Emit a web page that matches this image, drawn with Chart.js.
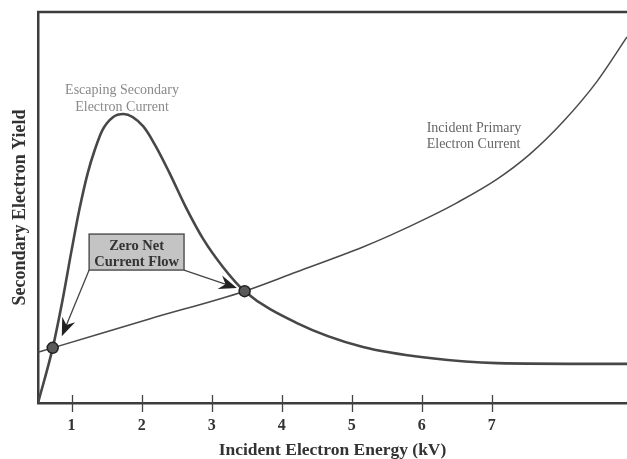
<!DOCTYPE html>
<html>
<head>
<meta charset="utf-8">
<script src="https://cdn.jsdelivr.net/npm/chart.js@4/dist/chart.umd.min.js"></script>
<style>
  html, body { margin: 0; padding: 0; background: #fff; }
  #wrap { width: 627px; height: 459px; }
</style>
</head>
<body>
<div id="wrap"><canvas id="chart"></canvas></div>
<script>
// incident energy (kV) and yield (arbitrary units)
const secondaryKv = [0.52, 0.73, 0.87, 1.0, 1.11, 1.23, 1.33, 1.44, 1.59, 1.74, 2.02, 2.2, 2.39, 2.63, 2.88, 3.16, 3.47, 4.21, 5.16, 6.11, 7.07, 8.93];
const secondaryYield = [0, 1.41, 2.63, 3.91, 4.94, 5.88, 6.47, 6.98, 7.31, 7.39, 7.08, 6.57, 5.91, 5.01, 4.19, 3.48, 2.86, 2.05, 1.43, 1.15, 1.02, 1.0];

const primaryKv = [0.52, 0.73, 2.11, 3.47, 4.21, 5.16, 5.54, 6.11, 6.5, 7.07, 7.54, 8.01, 8.5, 8.93];
const primaryYield = [1.3, 1.41, 2.15, 2.86, 3.35, 3.99, 4.28, 4.76, 5.12, 5.72, 6.36, 7.18, 8.22, 9.36];

const crossingKv = [0.73, 3.47];
const crossingYield = [1.41, 2.86];

const tickKv = [1, 2, 3, 4, 5, 6, 7];

const serif = "'Liberation Serif', 'Times New Roman', serif";
const ink = "#3c3c3c";

const toPoints = (xs, ys) => xs.map((x, i) => ({ x: x, y: ys[i] }));

function drawArrow(ctx, x1, y1, x2, y2) {
  const a = Math.atan2(y2 - y1, x2 - x1);
  ctx.beginPath();
  ctx.moveTo(x1, y1);
  ctx.lineTo(x2 - 10 * Math.cos(a), y2 - 10 * Math.sin(a));
  ctx.stroke();
  ctx.save();
  ctx.translate(x2, y2);
  ctx.rotate(a);
  ctx.beginPath();
  ctx.moveTo(0, 0);
  ctx.lineTo(-18, -7);
  ctx.lineTo(-12, 0);
  ctx.lineTo(-18, 7);
  ctx.closePath();
  ctx.fill();
  ctx.restore();
}

// frame, tick marks, labels, box and arrows
const decorations = {
  id: "decorations",
  afterDatasetsDraw(chart) {
    const ctx = chart.ctx;
    const { left, top, bottom } = chart.chartArea;
    const xs = chart.scales.x;
    const ys = chart.scales.y;
    ctx.save();

    // top border
    ctx.strokeStyle = ink;
    ctx.lineWidth = 2.5;
    ctx.beginPath();
    ctx.moveTo(left - 1, top);
    ctx.lineTo(chart.width, top);
    ctx.stroke();

    // tick marks crossing the axis
    ctx.lineWidth = 1.3;
    ctx.strokeStyle = "#444";
    tickKv.forEach((v) => {
      const px = Math.round(xs.getPixelForValue(v)) + 0.5;
      ctx.beginPath();
      ctx.moveTo(px, bottom - 8);
      ctx.lineTo(px, bottom + 9);
      ctx.stroke();
    });

    // curve labels
    ctx.font = "14px " + serif;
    ctx.textBaseline = "middle";
    ctx.fillStyle = "#8a8a8a";
    ctx.textAlign = "center";
    const ex = xs.getPixelForValue(1.72);
    const ey = ys.getPixelForValue(8.0);
    ctx.fillText("Escaping Secondary", ex, ey);
    ctx.fillText("Electron Current", ex, ey + 17);

    ctx.fillStyle = "#666";
    ctx.textAlign = "left";
    const ix = xs.getPixelForValue(6.07);
    const iy = ys.getPixelForValue(7.03);
    ctx.fillText("Incident Primary", ix, iy);
    ctx.fillText("Electron Current", ix, iy + 16);

    // annotation box
    const bx1 = xs.getPixelForValue(1.25);
    const bx2 = xs.getPixelForValue(2.605);
    const by1 = ys.getPixelForValue(4.32);
    const by2 = ys.getPixelForValue(3.4);
    ctx.fillStyle = "#c4c4c4";
    ctx.fillRect(bx1, by1, bx2 - bx1, by2 - by1);
    ctx.strokeStyle = "#555";
    ctx.lineWidth = 1.5;
    ctx.strokeRect(bx1, by1, bx2 - bx1, by2 - by1);
    ctx.fillStyle = "#333";
    ctx.textAlign = "center";
    ctx.font = "bold 14.5px " + serif;
    const bc = (bx1 + bx2) / 2;
    ctx.fillText("Zero Net", bc, by1 + 12);
    ctx.fillText("Current Flow", bc, by1 + 28);

    // arrows to the crossings
    ctx.strokeStyle = "#444";
    ctx.fillStyle = "#222";
    ctx.lineWidth = 1.3;
    drawArrow(ctx, bx1, by2, xs.getPixelForValue(0.86), ys.getPixelForValue(1.71));
    drawArrow(ctx, bx2, by2, xs.getPixelForValue(3.36), ys.getPixelForValue(2.94));

    ctx.restore();
  },
};

new Chart(document.getElementById("chart"), {
  type: "line",
  data: {
    datasets: [
      {
        label: "Zero Net Current Flow",
        data: toPoints(crossingKv, crossingYield),
        showLine: false,
        pointRadius: 5.5,
        pointBackgroundColor: "#5a5a5a",
        pointBorderColor: "#222",
        pointBorderWidth: 1.5,
        order: -1,
      },
      {
        label: "Escaping Secondary Electron Current",
        data: toPoints(secondaryKv, secondaryYield),
        borderColor: "#474747",
        borderWidth: 2.6,
        pointRadius: 0,
        cubicInterpolationMode: "monotone",
      },
      {
        label: "Incident Primary Electron Current",
        data: toPoints(primaryKv, primaryYield),
        borderColor: "#4a4a4a",
        borderWidth: 1.5,
        pointRadius: 0,
        cubicInterpolationMode: "monotone",
      },
    ],
  },
  options: {
    responsive: true,
    maintainAspectRatio: false,
    animation: false,
    layout: { autoPadding: false, padding: { top: 12, right: 0, bottom: 0, left: 0 } },
    plugins: { legend: { display: false }, tooltip: { enabled: false } },
    scales: {
      x: {
        type: "linear",
        min: 0.52,
        max: 8.93,
        afterBuildTicks: (scale) => {
          scale.ticks = tickKv.map((v) => ({ value: v }));
        },
        afterFit: (scale) => {
          scale.height = 56;
        },
        grid: { display: false, drawTicks: false },
        border: { display: true, color: ink, width: 2.5 },
        ticks: {
          padding: 13,
          color: "#333",
          font: { family: serif, size: 16, weight: "bold" },
        },
        title: {
          display: true,
          text: "Incident Electron Energy (kV)",
          color: "#333",
          font: { family: serif, size: 17.5, weight: "bold", lineHeight: 1 },
          padding: { top: 0, bottom: 0 },
        },
      },
      y: {
        min: 0,
        max: 10,
        afterFit: (scale) => {
          scale.width = 38;
        },
        grid: { display: false, drawTicks: false },
        border: { display: true, color: ink, width: 2.5 },
        ticks: { display: false },
        title: {
          display: true,
          text: "Secondary Electron Yield",
          color: "#333",
          font: { family: serif, size: 18, weight: "bold", lineHeight: 1 },
          padding: { top: 11, bottom: 0 },
        },
      },
    },
  },
  plugins: [decorations],
});
</script>
</body>
</html>
